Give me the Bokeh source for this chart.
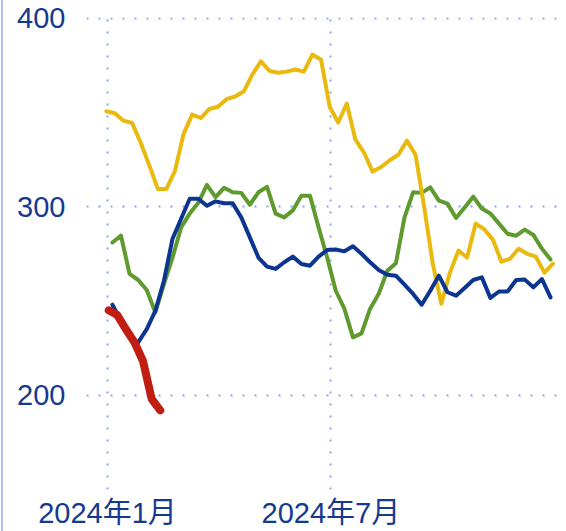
import pandas as pd
from bokeh.plotting import figure
from bokeh.models import Range1d, FixedTicker, ColumnDataSource
from bokeh.embed import file_html
from bokeh.resources import INLINE

# ---------------- data ----------------
ORIGIN = pd.Timestamp("2024-01-01")

yellow_dates = pd.date_range("2023-12-31", periods=53, freq="7D")
yellow_values = [350.6, 349.5, 345.6, 344.4, 334, 322, 309.4, 309.4, 319, 338.6,
                 348.8, 347, 351.8, 353, 357, 358.4, 361, 370, 377, 372,
                 371, 371.6, 372.7, 371.6, 380.6, 378, 353, 344.6, 354.7, 335.5,
                 328.7, 318.6, 321, 324.6, 327.5, 335, 327.5, 300, 270, 248.5,
                 265, 276.7, 273, 291, 288, 282.5, 270.8, 272.4, 277.7, 275,
                 273.5, 265, 269.8]

green_dates = pd.date_range("2024-01-05", periods=52, freq="7D")
green_values = [281, 284.6, 264.3, 261.1, 255.8, 243.9, 259, 273, 289, 296.3,
                302, 311.5, 305, 310, 307.6, 307.3, 301, 307.6, 310.5, 296.3,
                294.3, 298, 305.8, 305.8, 289, 273, 255.4, 245.9, 230.7, 232.8,
                245.9, 253.8, 266, 270, 294.3, 307.6, 307.3, 310.2, 303.2, 301.6,
                294, 299.6, 305.3, 299, 296.4, 291, 285.6, 284.6, 287.8, 285,
                277.7, 272]

navy_dates = pd.date_range("2024-01-05", periods=52, freq="7D")
navy_values = [248, 239.5, 230.7, 228, 235, 244.8, 260.7, 283, 293.6, 304.2,
               304.2, 300.5, 302.8, 301.8, 301.8, 294.3, 283.7, 273, 268.2, 267,
               270.5, 273.5, 269.6, 268.7, 273.5, 277, 277.3, 276.3, 279, 275,
               270.5, 266.4, 263.9, 263.4, 258.6, 253.7, 248, 255.4, 263.4, 254.6,
               252.8, 256.9, 261.1, 262.5, 251.6, 255, 255, 261.1, 261.3, 257.2,
               261.6, 251.9]

red_dates = pd.date_range("2024-01-02", periods=7, freq="7D")
red_values = [245, 242.5, 235, 228, 218, 198, 192]

x_tick_dates = ["2024-01-01", "2024-07-01"]
x_tick_labels = ["2024年1月", "2024年7月"]
y_ticks = [200, 300, 400]


def days(dates):
    return [(pd.Timestamp(d) - ORIGIN).days for d in dates]


# ---------------- styles ----------------
LABEL_COLOR = "#15398f"
GRID_COLOR = "#88a4f5"
FONT = "Liberation Sans, Noto Sans CJK SC, sans-serif"

p = figure(width=563, height=531, output_backend="svg", toolbar_location=None,
           x_range=Range1d(-17.1, 374.0), y_range=Range1d(150, 400.3),
           min_border_left=83, min_border_right=0, min_border_top=17,
           min_border_bottom=42)
p.outline_line_color = None
p.background_fill_color = "white"
p.border_fill_color = "white"
p.styles = {"margin-left": "1px", "border-left": "2px solid #b0c1ee"}

tick_days = days(x_tick_dates)
p.xaxis.ticker = FixedTicker(ticks=tick_days)
p.xaxis.major_label_overrides = {d: lab for d, lab in zip(tick_days, x_tick_labels)}
p.yaxis.ticker = FixedTicker(ticks=y_ticks)

for ax in (p.xaxis, p.yaxis):
    ax.axis_line_color = None
    ax.major_tick_line_color = None
    ax.minor_tick_line_color = None
    ax.major_tick_out = 0
    ax.major_tick_in = 0
    ax.major_label_text_color = LABEL_COLOR
    ax.major_label_text_font = FONT
    ax.major_label_text_font_size = "29px"

p.yaxis.major_label_standoff = 21
p.xaxis.major_label_standoff = 7

for g in (p.xgrid, p.ygrid):
    g.grid_line_color = GRID_COLOR
    g.grid_line_width = 2
    g.grid_line_dash = "2 10"
p.xgrid.ticker = FixedTicker(ticks=tick_days)
p.ygrid.ticker = FixedTicker(ticks=y_ticks)

series = [
    (green_dates, green_values, "#5e9a2d", 4),
    (yellow_dates, yellow_values, "#e9b90d", 4),
    (navy_dates, navy_values, "#0c3591", 4),
    (red_dates, red_values, "#c11e12", 8),
]
for dates, vals, color, w in series:
    src = ColumnDataSource(dict(x=days(dates), y=vals))
    p.line("x", "y", source=src, line_color=color, line_width=w,
           line_join="round", line_cap="round")

open("out.html", "w").write(file_html(p, INLINE))
